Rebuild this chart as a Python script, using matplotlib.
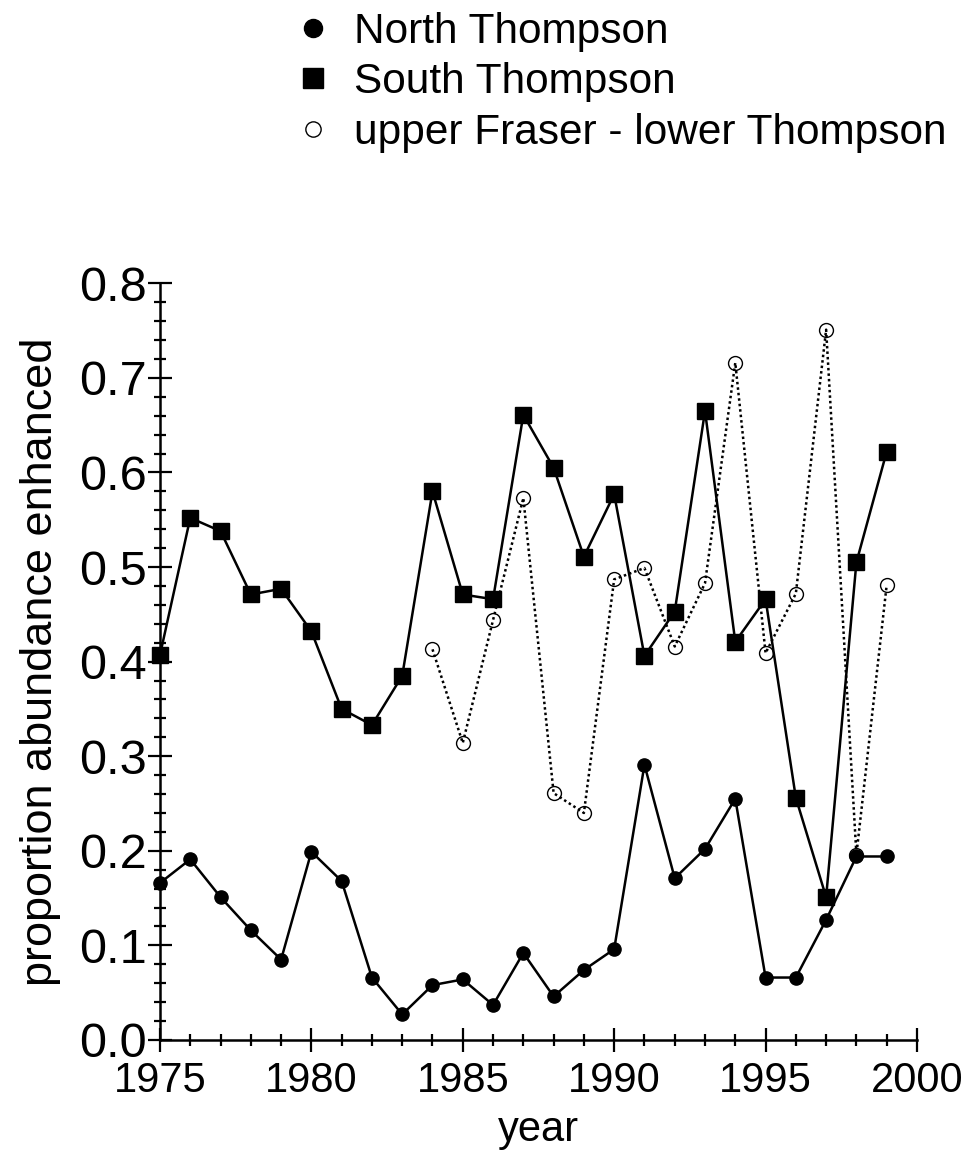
import matplotlib
matplotlib.use("Agg")
from matplotlib import pyplot as plt
from matplotlib.lines import Line2D
from matplotlib.ticker import MultipleLocator, FormatStrFormatter

plt.rcParams["font.family"] = ["Liberation Sans", "DejaVu Sans"]

years = list(range(1975, 2000))
north_thompson = [0.166, 0.191, 0.151, 0.116, 0.085, 0.199, 0.168, 0.066, 0.027,
                  0.058, 0.064, 0.037, 0.092, 0.046, 0.074, 0.096, 0.291, 0.171,
                  0.202, 0.255, 0.066, 0.066, 0.127, 0.194, 0.194]
south_thompson = [0.407, 0.552, 0.538, 0.471, 0.477, 0.432, 0.350, 0.333, 0.385,
                  0.580, 0.471, 0.466, 0.661, 0.605, 0.511, 0.577, 0.406, 0.453,
                  0.665, 0.421, 0.466, 0.256, 0.151, 0.505, 0.622]
fraser_years = list(range(1984, 2000))
upper_fraser = [0.413, 0.314, 0.444, 0.573, 0.261, 0.240, 0.487, 0.499, 0.416,
                0.483, 0.716, 0.409, 0.472, 0.751, 0.196, 0.481]

fig = plt.figure(figsize=(9.69, 11.55), dpi=100)
ax = fig.add_axes([0.1651, 0.0996, 0.7812, 0.6551])

ax.plot(fraser_years, upper_fraser, color="black", lw=1.8, ls=(0, (1, 1.2)),
        marker="o", ms=10, mfc="none", mec="black", mew=1.0, clip_on=False, zorder=2)
ax.plot(years, south_thompson, color="black", lw=1.8, marker="s", ms=11.5,
        mfc="black", mec="black", clip_on=False, zorder=3)
ax.plot(years, north_thompson, color="black", lw=1.8, marker="o", ms=9.5,
        mfc="black", mec="black", clip_on=False, zorder=4)

ax.set_xlim(1975, 2000)
ax.set_ylim(0, 0.8)
ax.xaxis.set_major_locator(MultipleLocator(5))
ax.xaxis.set_minor_locator(MultipleLocator(1))
ax.yaxis.set_major_locator(MultipleLocator(0.1))
ax.yaxis.set_minor_locator(MultipleLocator(0.02))
ax.yaxis.set_major_formatter(FormatStrFormatter("%.1f"))

for side in ["top", "right"]:
    ax.spines[side].set_visible(False)
for side in ["left", "bottom"]:
    ax.spines[side].set_linewidth(1.8)

ax.tick_params(which="major", direction="inout", length=17, width=1.6)
ax.tick_params(which="minor", direction="inout", length=8.5, width=1.6)
ax.tick_params(axis="x", which="major", labelsize=30, pad=7)
ax.tick_params(axis="y", which="major", labelsize=35, pad=1)

ax.set_xlabel("year", fontsize=30, labelpad=6)
ax.set_ylabel("proportion abundance enhanced", fontsize=32.5, labelpad=13)

handles = [
    Line2D([], [], ls="none", marker="o", ms=13, mfc="black", mec="black"),
    Line2D([], [], ls="none", marker="s", ms=14, mfc="black", mec="black"),
    Line2D([], [], ls="none", marker="o", ms=11, mfc="none", mec="black", mew=1.0),
]
labels = ["North Thompson", "South Thompson", "upper Fraser - lower Thompson"]
fig.legend(handles, labels, loc="upper left", bbox_to_anchor=(0.306, 0.99),
           frameon=False, fontsize=30.5, handlelength=0.8, handletextpad=0.55,
           labelspacing=0.25, borderaxespad=0, borderpad=0)

fig.savefig("out.png", dpi=100)
